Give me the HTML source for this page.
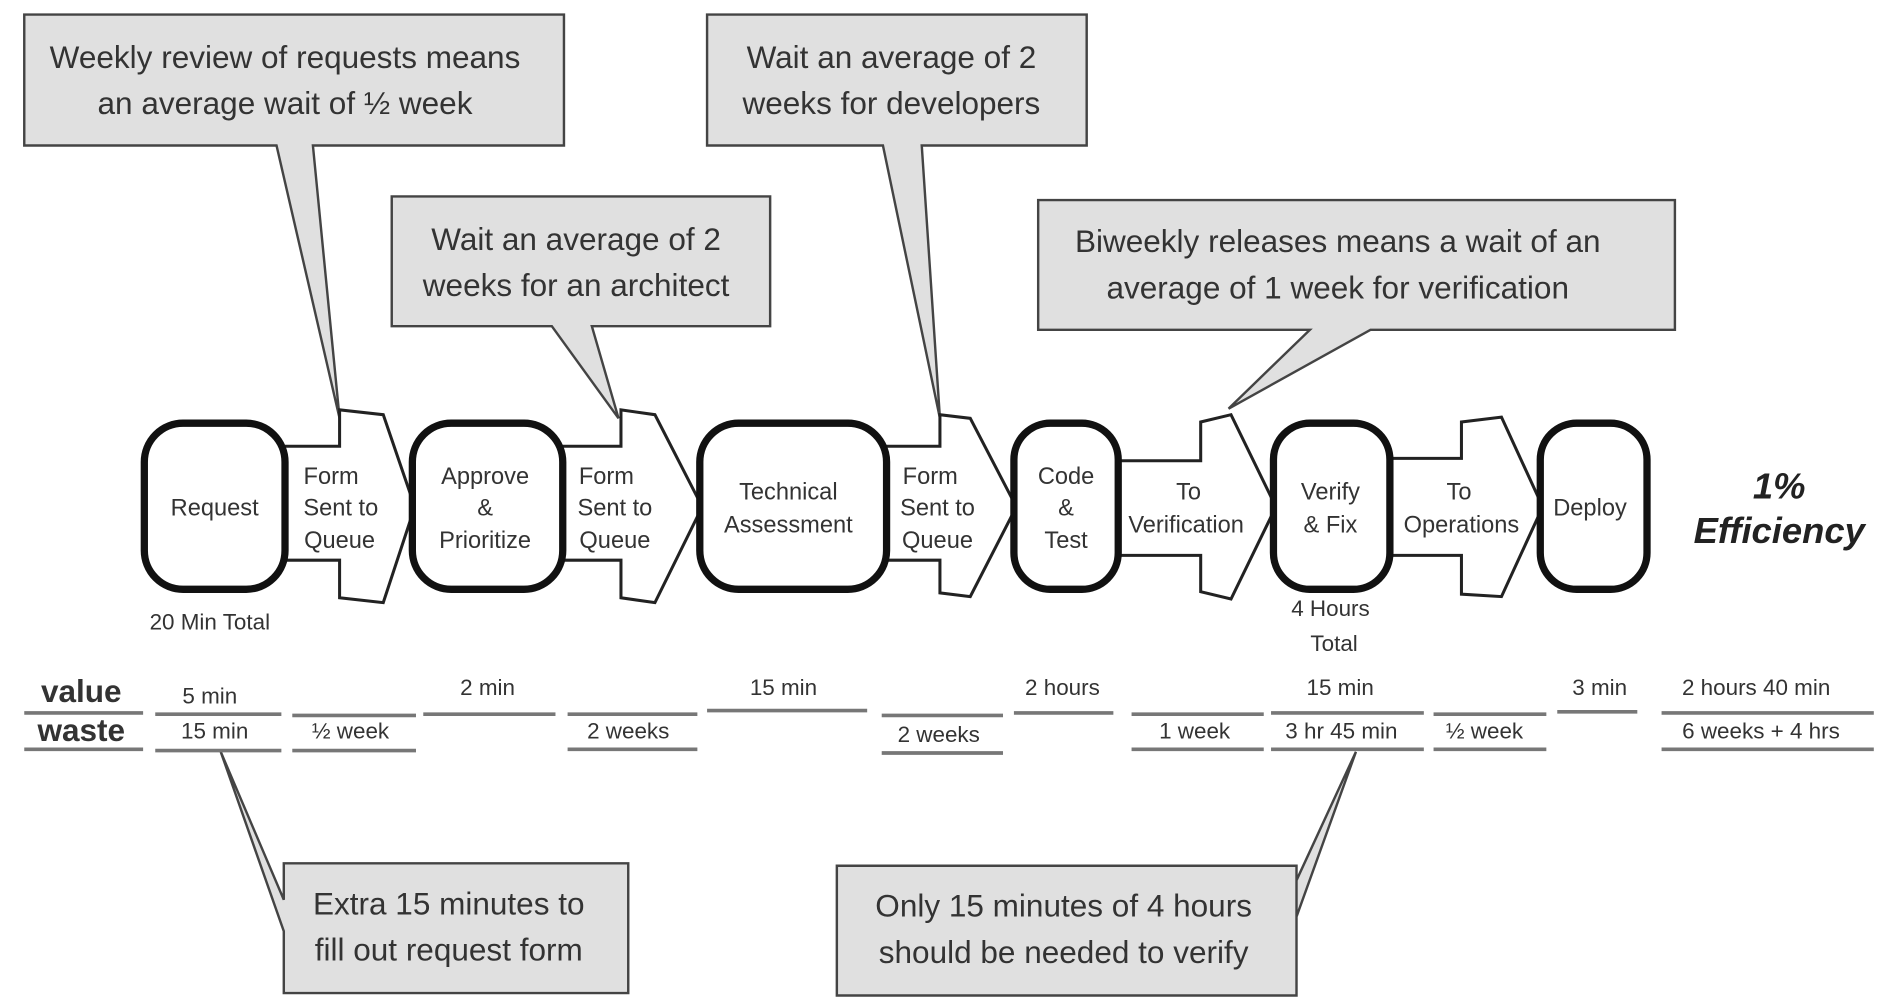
<!DOCTYPE html>
<html><head><meta charset="utf-8"><style>
html,body{margin:0;padding:0;background:#fff;}
svg{display:block;}
text{font-family:"Liberation Sans",sans-serif;fill:#333;}
.c{font-size:26px;text-anchor:middle;}
.b{font-size:19.5px;text-anchor:middle;}
.t{font-size:18.5px;text-anchor:middle;}
.co{fill:#e0e0e0;stroke:#444;stroke-width:2;}
.bx{fill:#fff;stroke:#111;stroke-width:6;}
.ar{fill:#fff;stroke:#222;stroke-width:2.5;stroke-linejoin:miter;}
.ln{stroke:#777;stroke-width:3;}
</style></head><body>
<svg width="1892" height="1004" viewBox="0 0 1560 828" preserveAspectRatio="none">
<polygon class="co" points="20,12 465,12 465,120 258,120 280,345 228,120 20,120"/>
<text class="c" x="235" y="56">Weekly review of requests means</text>
<text class="c" x="235" y="94">an average wait of ½ week</text>

<polygon class="co" points="323,162 635,162 635,269 488,269 510,345 455,269 323,269"/>
<text class="c" x="475" y="206">Wait an average of 2</text>
<text class="c" x="475" y="244">weeks for an architect</text>

<polygon class="co" points="583,12 896,12 896,120 760,120 775,345 728,120 583,120"/>
<text class="c" x="735" y="56">Wait an average of 2</text>
<text class="c" x="735" y="94">weeks for developers</text>

<polygon class="co" points="856,165 1381,165 1381,272 1130,272 1013,337 1080,272 856,272"/>
<text class="c" x="1103" y="208">Biweekly releases means a wait of an</text>
<text class="c" x="1103" y="246">average of 1 week for verification</text>

<polygon class="co" points="234,712 518,712 518,819 234,819 234,768 182,620 234,742"/>
<text class="c" x="370" y="754">Extra 15 minutes to</text>
<text class="c" x="370" y="792">fill out request form</text>

<polygon class="co" points="690,714 1069,714 1069,756 1118,620 1069,726 1069,821 690,821"/>
<text class="c" x="877" y="756">Only 15 minutes of 4 hours</text>
<text class="c" x="877" y="794">should be needed to verify</text>

<polygon class="ar" points="234,368 280,368 280,338 316,342 342,418 316,497 280,493 280,462 234,462"/>
<polygon class="ar" points="462,368 512,368 512,338 540,342 579,418 540,497 512,493 512,462 462,462"/>
<polygon class="ar" points="729,368 775,368 775,342 800,345 838,418 800,492 775,489 775,462 729,462"/>
<polygon class="ar" points="920,380 990,380 990,348 1015,342 1052,418 1015,494 990,488 990,458 920,458"/>
<polygon class="ar" points="1144,378 1205,378 1205,348 1238,344 1272,418 1238,492 1205,490 1205,458 1144,458"/>
<text class="b" x="273" y="399">Form</text><text class="b" x="281" y="425">Sent to</text><text class="b" x="280" y="452">Queue</text>
<text class="b" x="500" y="399">Form</text><text class="b" x="507" y="425">Sent to</text><text class="b" x="507" y="452">Queue</text>
<text class="b" x="767" y="399">Form</text><text class="b" x="773" y="425">Sent to</text><text class="b" x="773" y="452">Queue</text>
<text class="b" x="980" y="412">To</text><text class="b" x="978" y="439">Verification</text>
<text class="b" x="1203" y="412">To</text><text class="b" x="1205" y="439">Operations</text>

<rect class="bx" x="119" y="349" width="116" height="137" rx="32"/>
<rect class="bx" x="340" y="349" width="124" height="137" rx="32"/>
<rect class="bx" x="577" y="349" width="154" height="137" rx="32"/>
<rect class="bx" x="836" y="349" width="86" height="137" rx="30"/>
<rect class="bx" x="1050" y="349" width="96" height="137" rx="30"/>
<rect class="bx" x="1270" y="349" width="88" height="137" rx="30"/>
<text class="b" x="177" y="425">Request</text>
<text class="b" x="400" y="399">Approve</text><text class="b" x="400" y="425">&amp;</text><text class="b" x="400" y="452">Prioritize</text>
<text class="b" x="650" y="412">Technical</text><text class="b" x="650" y="439">Assessment</text>
<text class="b" x="879" y="399">Code</text><text class="b" x="879" y="425">&amp;</text><text class="b" x="879" y="452">Test</text>
<text class="b" x="1097" y="412">Verify</text><text class="b" x="1097" y="439">&amp; Fix</text>
<text class="b" x="1311" y="425">Deploy</text>

<text x="1467" y="411" style="font-size:30px;font-weight:bold;font-style:italic;text-anchor:middle;fill:#222">1%</text>
<text x="1467" y="448" style="font-size:30px;font-weight:bold;font-style:italic;text-anchor:middle;fill:#222">Efficiency</text>

<text class="t" x="173" y="519">20 Min Total</text>
<text class="t" x="1097" y="508">4 Hours</text>
<text class="t" x="1100" y="537">Total</text>

<text x="67" y="579" style="font-size:26px;font-weight:bold;text-anchor:middle;fill:#333">value</text>
<text x="67" y="611" style="font-size:26px;font-weight:bold;text-anchor:middle;fill:#333">waste</text>
<line class="ln" x1="20" y1="588" x2="118" y2="588"/><line class="ln" x1="20" y1="618" x2="118" y2="618"/>

<text class="t" x="173" y="580">5 min</text><line class="ln" x1="128" y1="589" x2="232" y2="589"/>
<text class="t" x="177" y="609">15 min</text><line class="ln" x1="128" y1="619" x2="232" y2="619"/>

<line class="ln" x1="241" y1="590" x2="343" y2="590"/>
<text class="t" x="289" y="609">½ week</text><line class="ln" x1="241" y1="619" x2="343" y2="619"/>

<text class="t" x="402" y="573">2 min</text><line class="ln" x1="349" y1="589" x2="458" y2="589"/>

<line class="ln" x1="468" y1="589" x2="575" y2="589"/>
<text class="t" x="518" y="609">2 weeks</text><line class="ln" x1="468" y1="618" x2="575" y2="618"/>

<text class="t" x="646" y="573">15 min</text><line class="ln" x1="583" y1="586" x2="715" y2="586"/>

<line class="ln" x1="727" y1="590" x2="827" y2="590"/>
<text class="t" x="774" y="612">2 weeks</text><line class="ln" x1="727" y1="621" x2="827" y2="621"/>

<text class="t" x="876" y="573">2 hours</text><line class="ln" x1="836" y1="588" x2="918" y2="588"/>

<line class="ln" x1="933" y1="589" x2="1042" y2="589"/>
<text class="t" x="985" y="609">1 week</text><line class="ln" x1="933" y1="618" x2="1042" y2="618"/>

<text class="t" x="1105" y="573">15 min</text><line class="ln" x1="1048" y1="588" x2="1174" y2="588"/>
<text class="t" x="1106" y="609">3 hr 45 min</text><line class="ln" x1="1048" y1="618" x2="1174" y2="618"/>

<line class="ln" x1="1182" y1="589" x2="1275" y2="589"/>
<text class="t" x="1224" y="609">½ week</text><line class="ln" x1="1182" y1="618" x2="1275" y2="618"/>

<text class="t" x="1319" y="573">3 min</text><line class="ln" x1="1284" y1="587" x2="1350" y2="587"/>

<text class="t" x="1448" y="573">2 hours 40 min</text><line class="ln" x1="1370" y1="588" x2="1545" y2="588"/>
<text class="t" x="1452" y="609">6 weeks + 4 hrs</text><line class="ln" x1="1370" y1="618" x2="1545" y2="618"/>
</svg>
</body></html>
